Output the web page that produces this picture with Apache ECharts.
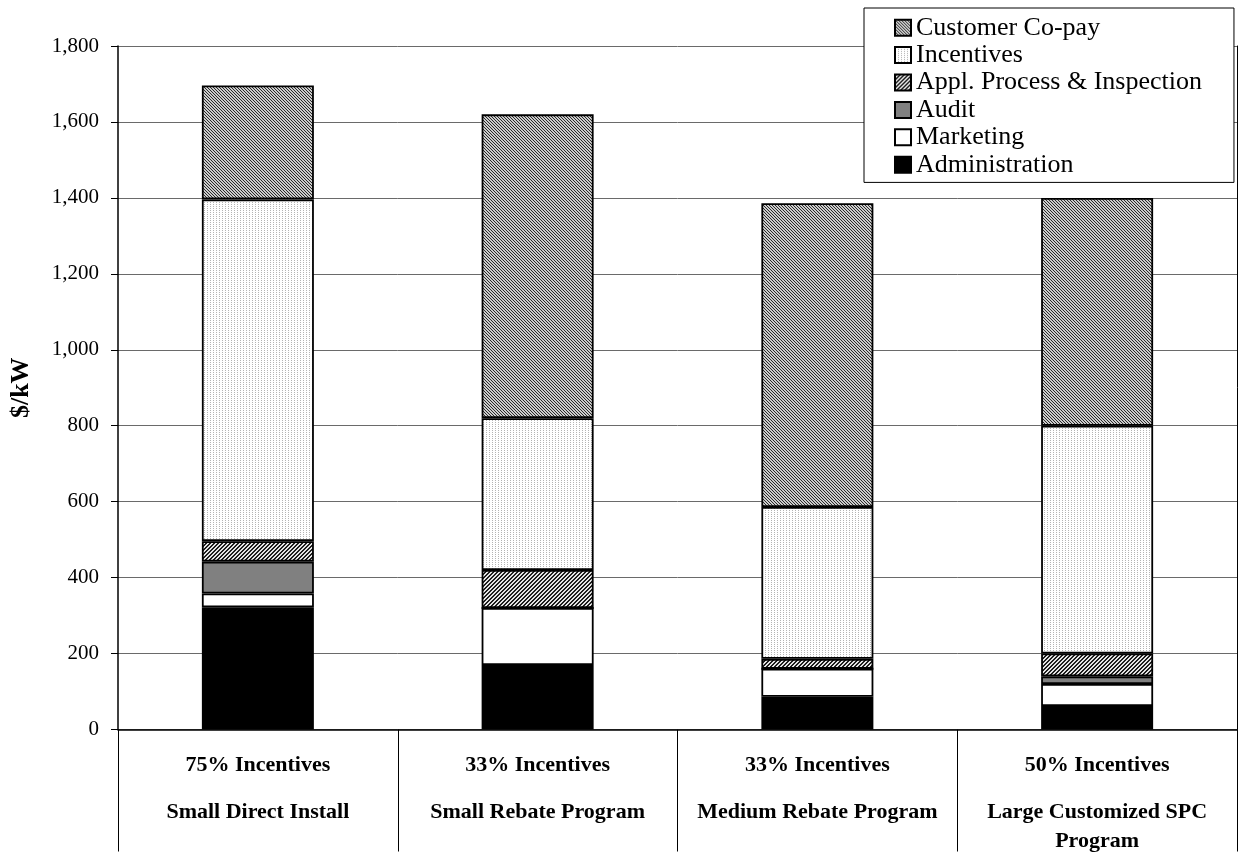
<!DOCTYPE html>
<html>
<head>
<meta charset="utf-8">
<script src="https://cdn.jsdelivr.net/npm/echarts@6/dist/echarts.min.js"></script>
<style>
  html, body { margin: 0; padding: 0; background: #fff; }
  #chart { width: 1239px; height: 852px; }
</style>
</head>
<body>
<div id="chart"></div>
<script>
// program names and incentive share (two rows of the category labels)
const categories = ['Small Direct Install', 'Small Rebate Program', 'Medium Rebate Program', 'Large Customized SPC\nProgram'];
const incentiveShares = ['75% Incentives', '33% Incentives', '33% Incentives', '50% Incentives'];

// $/kW by cost component, bottom of the stack first
const administration = [322, 170, 86, 62];
const marketing = [36, 150, 74, 58];
const audit = [84, 0, 0, 20];
const applProcess = [54, 100, 26, 60];
const incentives = [900, 400, 400, 600];
const customerCopay = [300, 800, 800, 600];

const legendOrder = ['Customer Co-pay', 'Incentives', 'Appl. Process & Inspection', 'Audit', 'Marketing', 'Administration'];

// small canvas tiles to imitate the old excel fill patterns
function tile(size, bg, fg, test) {
    let c = document.createElement('canvas');
    c.width = size; c.height = size;
    let ctx = c.getContext('2d');
    ctx.fillStyle = bg;
    ctx.fillRect(0, 0, size, size);
    ctx.fillStyle = fg;
    for (let x = 0; x < size; x++) {
        for (let y = 0; y < size; y++) {
            if (test(x, y)) ctx.fillRect(x, y, 1, 1);
        }
    }
    return { image: c, repeat: 'repeat' };
}

const copayFill = tile(3, '#cccccc', '#2a2a2a', (x, y) => (x - y + 3) % 3 === 0);
const incentFill = tile(6, '#ffffff', '#b4b4b4', (x, y) => x % 3 === 0 && y % 2 === 0);
const applFill = tile(4, '#e4e4e4', '#1e1e1e', (x, y) => (x + y) % 4 < 2);

const serif = 'Liberation Serif, Times New Roman, serif';

function barSeries(name, data, color) {
    return {
        name: name,
        type: 'bar',
        stack: 'cost',
        barWidth: 112,
        data: data,
        itemStyle: { color: color, borderColor: '#000', borderWidth: 1.8 }
    };
}

let myChart = echarts.init(document.getElementById('chart'));
let option = {
    animation: false,
    backgroundColor: '#fff',
    grid: { left: 117, right: 2, top: 46, bottom: 122 },
    legend: {
        data: legendOrder,
        orient: 'vertical',
        left: 864,
        top: 8,
        padding: [6, 32, 4, 30],
        itemGap: 0,
        itemWidth: 16,
        itemHeight: 16,
        icon: 'rect',
        selectedMode: false,
        backgroundColor: '#fff',
        borderColor: '#000',
        borderWidth: 1,
        textStyle: { fontFamily: serif, fontSize: 26, color: '#000', lineHeight: 27.4 }
    },
    xAxis: {
        type: 'category',
        data: categories,
        axisLine: { lineStyle: { color: '#000', width: 1.5 } },
        axisTick: { show: true, interval: 0, length: 122, lineStyle: { color: '#000', width: 1 } },
        axisLabel: {
            interval: 0,
            margin: 3,
            color: '#000',
            formatter: function (value, idx) {
                return '{a|' + incentiveShares[idx] + '}\n{b|' + value.split('\n').join('}\n{b|') + '}';
            },
            rich: {
                a: { fontFamily: serif, fontWeight: 'bold', fontSize: 22, lineHeight: 65, color: '#000' },
                b: { fontFamily: serif, fontWeight: 'bold', fontSize: 22, lineHeight: 29, color: '#000' }
            }
        }
    },
    yAxis: [
        {
            type: 'value',
            min: 0,
            max: 1800,
            interval: 200,
            name: '$/kW',
            nameLocation: 'middle',
            nameGap: 84,
            nameTextStyle: { fontFamily: serif, fontWeight: 'bold', fontSize: 26, color: '#000' },
            axisLine: { show: true, lineStyle: { color: '#000', width: 1.5 } },
            axisTick: { show: true, length: 7, lineStyle: { color: '#000' } },
            axisLabel: {
                margin: 19,
                color: '#000',
                fontFamily: serif,
                fontSize: 21,
                formatter: v => v.toLocaleString('en-US')
            },
            splitLine: { lineStyle: { color: '#6a6a6a', width: 1 } }
        },
        {
            type: 'value',
            position: 'right',
            min: 0,
            max: 1800,
            interval: 200,
            axisLine: { show: true, lineStyle: { color: '#000', width: 1 } },
            axisTick: { show: false },
            axisLabel: { show: false },
            splitLine: { show: false }
        }
    ],
    series: [
        barSeries('Administration', administration, '#000000'),
        barSeries('Marketing', marketing, '#ffffff'),
        barSeries('Audit', audit, '#808080'),
        barSeries('Appl. Process & Inspection', applProcess, applFill),
        barSeries('Incentives', incentives, incentFill),
        barSeries('Customer Co-pay', customerCopay, copayFill)
    ]
};
myChart.setOption(option);
window.addEventListener('resize', function () { myChart.resize() });
</script>
</body>
</html>
